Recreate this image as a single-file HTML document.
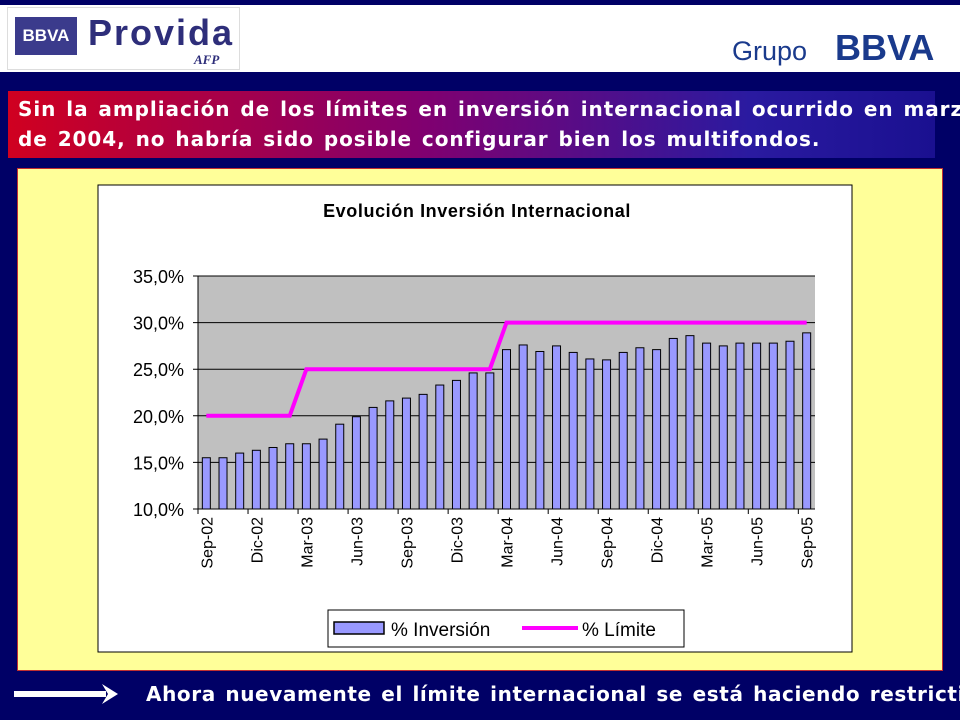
<!DOCTYPE html>
<html><head><meta charset="utf-8"><style>
body{margin:0;width:960px;height:720px;background:#000066;overflow:hidden;font-family:"Liberation Sans",sans-serif;position:relative}
.abs{position:absolute}
.clip{position:absolute;left:0;top:0;width:960px;height:720px;overflow:hidden}
</style></head><body>
<div class="clip">
<div class="abs" style="left:0;top:5px;width:960px;height:67px;background:#fff"></div>
<div class="abs" style="left:7px;top:7px;width:233px;height:63px;border:1px solid #ddd;background:#fff;box-sizing:border-box"></div>
<div class="abs" style="left:15px;top:17px;width:62px;height:38px;background:#3b3b8c;color:#fff;font-weight:bold;font-size:17px;line-height:38px;text-align:center">BBVA</div>
<div class="abs" style="left:88px;top:12px;color:#2e2e7a;font-size:36px;font-weight:bold;letter-spacing:2px">Provida</div>
<div class="abs" style="left:194px;top:52px;color:#2e2e7a;font-size:13px;font-weight:bold;font-style:italic;font-family:'Liberation Serif',serif">AFP</div>
<div class="abs" style="left:732px;top:36px;color:#1a3a8c;font-size:27px">Grupo</div>
<div class="abs" style="left:835px;top:27px;color:#1a3a8c;font-size:36px;font-weight:bold">BBVA</div>
<div class="abs" style="left:8px;top:91px;width:927px;height:67px;background:linear-gradient(90deg,#d00020,#800070 45%,#2a1aa0 80%,#1a1090)"></div>
<div class="abs" style="left:18px;top:94px;width:942px;overflow:hidden;color:#fff;font-weight:bold;font-size:20px;line-height:30px;white-space:nowrap;font-family:'DejaVu Sans',sans-serif;letter-spacing:0.95px;word-spacing:2px">Sin la ampliación de los límites en inversión internacional ocurrido en marzo<br>de 2004, no habría sido posible configurar bien los multifondos.</div>
<div class="abs" style="left:17px;top:168px;width:926px;height:503px;background:#ffff99;border:1px solid #c03030;box-sizing:border-box"></div>
<svg class="abs" style="left:0;top:0" width="960" height="720" id="chart"></svg>
<div class="abs" style="left:14px;top:684px;line-height:20px">
<svg width="110" height="20"><rect x="0" y="7" width="92" height="6" fill="#fff"/><polygon points="88,0 104,10 88,20 94,10" fill="#fff"/></svg></div>
<div class="abs" style="left:146px;top:682px;width:814px;overflow:hidden;color:#fff;font-weight:bold;font-size:20px;white-space:nowrap;font-family:'DejaVu Sans',sans-serif;letter-spacing:0.6px;word-spacing:2px">Ahora nuevamente el límite internacional se está haciendo restrictivo</div>
</div>
<script>
const categories=["Sep-02","Oct-02","Nov-02","Dic-02","Ene-03","Feb-03","Mar-03","Abr-03","May-03","Jun-03","Jul-03","Ago-03","Sep-03","Oct-03","Nov-03","Dic-03","Ene-04","Feb-04","Mar-04","Abr-04","May-04","Jun-04","Jul-04","Ago-04","Sep-04","Oct-04","Nov-04","Dic-04","Ene-05","Feb-05","Mar-05","Abr-05","May-05","Jun-05","Jul-05","Ago-05","Sep-05"];
const inversion=[15.5,15.5,16.0,16.3,16.6,17.0,17.0,17.5,19.1,19.9,20.9,21.6,21.9,22.3,23.3,23.8,24.6,24.6,27.1,27.6,26.9,27.5,26.8,26.1,26.0,26.8,27.3,27.1,28.3,28.6,27.8,27.5,27.8,27.8,27.8,28.0,28.9];
const limite=[20,20,20,20,20,20,25,25,25,25,25,25,25,25,25,25,25,25,30,30,30,30,30,30,30,30,30,30,30,30,30,30,30,30,30,30,30];
const yTicks=[10,15,20,25,30,35];
const yLabels=["10,0%","15,0%","20,0%","25,0%","30,0%","35,0%"];
const NS="http://www.w3.org/2000/svg",svg=document.getElementById("chart");
const X0=198,X1=815,Y0=509,Y1=276;
const cw=(X1-X0)/categories.length;
const x=i=>X0+cw*(i+0.5), y=v=>Y0-(v-10)/25*(Y0-Y1);
function mk(t,a){const e=document.createElementNS(NS,t);for(const k in a)e.setAttribute(k,a[k]);svg.appendChild(e);return e;}
let e=mk("rect",{x:98,y:185,width:754,height:467,fill:"#fff",stroke:"#000","stroke-width":1});

e=mk("text",{x:477,y:217,"text-anchor":"middle","font-size":18,"font-weight":"bold","font-family":"Liberation Sans, sans-serif","letter-spacing":0.6});e.textContent="Evolución Inversión Internacional";

e=mk("rect",{x:X0,y:Y1,width:X1-X0,height:Y0-Y1,fill:"#c0c0c0"});

yTicks.forEach((t,i)=>{
 e=mk("line",{x1:X0-5,x2:X1,y1:y(t),y2:y(t),stroke:"#000","stroke-width":1});
 
 e=mk("text",{x:X0-14,y:y(t)+7,"text-anchor":"end","font-size":18,"font-family":"Liberation Sans, sans-serif"});e.textContent=yLabels[i];
 
});
inversion.forEach((v,i)=>{
 e=mk("rect",{x:x(i)-4,y:y(v),width:8,height:Y0-y(v),fill:"#9999ff",stroke:"#000","stroke-width":1});
 
});
e=mk("polyline",{points:limite.map((v,i)=>x(i)+","+y(v)).join(" "),fill:"none",stroke:"#ff00ff","stroke-width":4});

mk("line",{x1:X0,x2:X0,y1:Y1,y2:Y0,stroke:"#000"});
mk("line",{x1:X0,x2:X1,y1:Y0,y2:Y0,stroke:"#000"});
categories.forEach((c,i)=>{
 if(i%3)return;
 const tx=X0+cw*i;
 mk("line",{x1:tx,x2:tx,y1:Y0,y2:Y0+5,stroke:"#000"});
 e=mk("text",{transform:`translate(${x(i)+6},${Y0+8}) rotate(-90)`,"text-anchor":"end","font-size":16,"font-family":"Liberation Sans, sans-serif"});e.textContent=c;
 
});
e=mk("rect",{x:328,y:610,width:356,height:37,fill:"#fff",stroke:"#000"});

e=mk("rect",{x:334,y:622,width:50,height:12,fill:"#9999ff",stroke:"#000","stroke-width":1.5});

e=mk("text",{x:391,y:636,"font-size":19,"font-family":"Liberation Sans, sans-serif"});e.textContent="% Inversión";

e=mk("line",{x1:522,x2:578,y1:628,y2:628,stroke:"#ff00ff","stroke-width":4});

e=mk("text",{x:582,y:636,"font-size":19,"font-family":"Liberation Sans, sans-serif"});e.textContent="% Límite";

</script>
</body></html>
